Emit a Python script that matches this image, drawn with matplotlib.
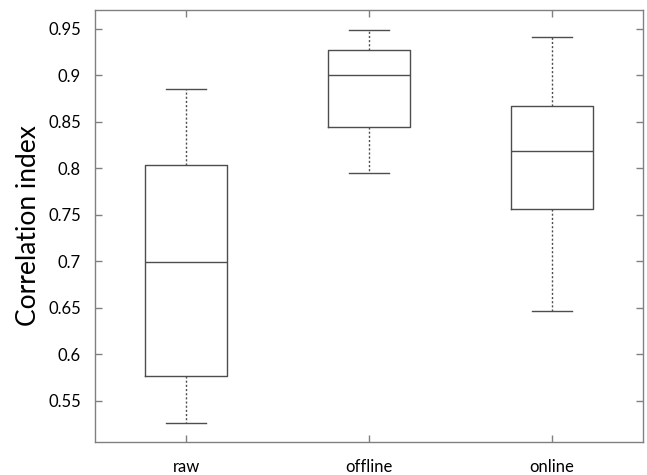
import matplotlib
matplotlib.use('Agg')
import matplotlib.pyplot as plt

plt.rcParams['font.family'] = ['Lato', 'DejaVu Sans']

# Box statistics
groups = ['raw', 'offline', 'online']
whislo = [0.526, 0.795, 0.646]
q1 = [0.577, 0.845, 0.756]
med = [0.699, 0.900, 0.819]
q3 = [0.804, 0.927, 0.867]
whishi = [0.885, 0.949, 0.941]
yticks = [0.55, 0.6, 0.65, 0.7, 0.75, 0.8, 0.85, 0.9, 0.95]

stats = []
for i, name in enumerate(groups):
    stats.append({'label': name, 'whislo': whislo[i], 'q1': q1[i], 'med': med[i],
                  'q3': q3[i], 'whishi': whishi[i], 'fliers': []})

fig = plt.figure(figsize=(6.47, 4.75), dpi=100)
ax = fig.add_axes([0.1468, 0.0695, 0.8470, 0.9095])

box_col = '#4d4d4d'
ax.bxp(stats, positions=[1, 2, 3], widths=0.45, showfliers=False,
       boxprops=dict(color=box_col, linewidth=1.0),
       medianprops=dict(color=box_col, linewidth=1.0),
       whiskerprops=dict(color=box_col, linewidth=1.0, linestyle=(0, (1.5, 1.5))),
       capprops=dict(color=box_col, linewidth=1.0),
       capwidths=0.22)

ax.set_xlim(0.5, 3.5)
ax.set_ylim(0.5056, 0.9704)
ax.set_yticks(yticks)
ax.set_yticklabels(['0.55', '0.6', '0.65', '0.7', '0.75', '0.8', '0.85', '0.9', '0.95'])

for s in ax.spines.values():
    s.set_color('#808080')
    s.set_linewidth(1.0)

ax.tick_params(direction='in', length=5, color='#808080', width=1.0,
               top=True, right=True, labelsize=12, labelcolor='black')
ax.tick_params(axis='x', pad=12)
ax.tick_params(axis='y', pad=10)
ax.set_ylabel('Correlation index', fontsize=19, labelpad=5)

fig.savefig('out.png', dpi=100)
